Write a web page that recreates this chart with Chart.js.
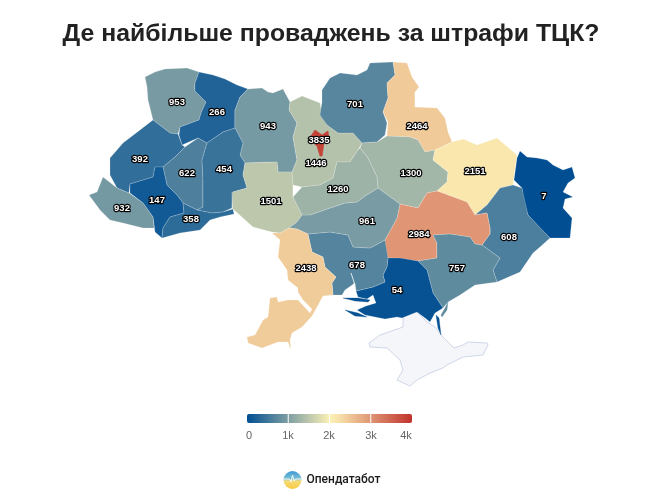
<!DOCTYPE html>
<html lang="uk">
<head>
<meta charset="utf-8">
<title>Де найбільше проваджень за штрафи ТЦК?</title>
<script src="https://cdn.jsdelivr.net/npm/chart.js@4/dist/chart.umd.min.js"></script>
<style>
html,body{margin:0;padding:0;background:#fff}
#wrap{width:650px;height:497px;position:relative}
</style>
</head>
<body>
<div id="wrap"><canvas id="c" width="650" height="497"></canvas></div>
<script>
const chartTitle = 'Де найбільше проваджень за штрафи ТЦК?';
const brandName = 'Опендатабот';
const legendTicks = [0, 1000, 2000, 3000, 4000];
const legendLabels = ['0', '1k', '2k', '3k', '4k'];

const regionNames = ['Волинська','Рівненська','Житомирська','Львівська','Тернопільська','Хмельницька','Івано-Франківська','Чернівецька','Закарпатська','Вінницька','Київська','Чернігівська','Сумська','Полтавська','Харківська','Луганська','Донецька','Дніпропетровська','Запорізька','Херсонська','Миколаївська','Кіровоградська','Одеська','Черкаська','м. Київ'];
const regionValues = [953,266,943,392,622,454,147,358,932,1501,1446,701,2464,1300,2151,7,608,2984,757,54,678,961,2438,1260,3835];
const labelX = [177,217,268,140,187,224,157,191,122,271,316,355,417,411,475,544,509,419,457,397,357,367,306,338,319];
const labelY = [102,112,126,159,173,169,200,219,208,201,163,104,126,173,171,196,237,234,268,290,265,221,268,189,140];

const volyn = [[145,77],[155,72],[165,69],[187,68],[199,72],[195,83],[195,91],[206,102],[201,113],[199,120],[180,127],[178,134],[170,133],[153,120],[148,100],[147,87]];
const rivne = [[199,72],[213,75],[225,79],[237,85],[248,89],[240,97],[235,110],[235,128],[223,132],[207,143],[198,138],[182,145],[179,135],[180,127],[199,120],[201,113],[206,102],[195,91],[195,83]];
const zhytomyr = [[248,89],[262,88],[268,92],[273,93],[283,89],[290,102],[289,110],[297,123],[293,137],[297,160],[292,172],[278,172],[277,162],[245,163],[240,155],[243,143],[235,128],[235,110],[240,97]];
const lviv = [[153,120],[170,133],[178,134],[182,145],[185,147],[175,157],[163,167],[155,167],[153,177],[130,184],[129,193],[117,188],[110,175],[110,158],[123,143],[140,130]];
const ternopil = [[185,147],[198,138],[207,143],[202,160],[203,180],[203,207],[197,210],[183,203],[177,195],[167,185],[163,167],[175,157]];
const khmelnytskyi = [[207,143],[223,132],[235,128],[243,143],[240,155],[245,163],[243,175],[247,188],[233,192],[232,208],[223,212],[212,213],[197,210],[203,207],[203,180],[202,160]];
const frankivsk = [[130,184],[153,177],[155,167],[163,167],[167,185],[177,195],[183,203],[184,213],[170,217],[163,228],[162,238],[155,232],[153,217],[143,203],[130,193]];
const chernivtsi = [[183,203],[197,210],[212,213],[223,212],[233,209],[234,214],[220,217],[210,220],[200,230],[180,233],[162,238],[163,228],[170,217],[184,213]];
const zakarpattia = [[103,177],[117,188],[129,193],[143,203],[153,217],[154,228],[143,228],[123,223],[110,220],[100,210],[89,195],[97,192]];
const vinnytsia = [[245,163],[277,162],[278,172],[292,172],[293,185],[293,197],[302,215],[297,222],[289,228],[280,233],[272,232],[253,227],[233,209],[232,200],[233,192],[247,188],[243,175]];
const kyivObl = [[290,102],[302,96],[320,103],[322,115],[327,125],[338,133],[353,133],[362,143],[358,150],[350,162],[337,162],[333,178],[320,185],[302,187],[293,185],[292,172],[297,160],[293,137],[297,123],[289,110]];
const chernihiv = [[322,90],[330,78],[340,73],[357,75],[367,70],[370,63],[393,62],[395,75],[387,83],[388,98],[383,112],[387,123],[385,135],[377,142],[362,143],[353,133],[338,133],[327,125],[320,115],[322,102]];
const sumy = [[393,62],[407,63],[412,77],[419,87],[415,92],[415,107],[437,108],[445,118],[448,132],[452,142],[435,150],[425,152],[418,140],[410,137],[387,136],[388,122],[383,112],[388,98],[387,83],[395,75]];
const poltava = [[362,143],[377,142],[387,136],[410,137],[418,140],[425,152],[435,150],[433,160],[448,172],[447,182],[437,191],[427,193],[418,208],[400,204],[378,188],[377,177],[368,158],[360,148]];
const kharkiv = [[433,160],[435,150],[452,142],[463,139],[477,145],[497,138],[517,155],[515,168],[513,185],[500,188],[487,205],[475,215],[467,202],[448,195],[437,191],[447,182],[448,172]];
const luhansk = [[520,151],[527,157],[537,158],[547,160],[553,165],[563,170],[572,167],[575,178],[568,183],[563,192],[573,197],[565,199],[563,208],[572,218],[570,238],[550,238],[540,228],[528,215],[523,198],[522,188],[514,180],[517,158]];
const donetsk = [[487,205],[500,188],[513,185],[522,188],[528,215],[550,238],[540,247],[533,253],[520,272],[497,282],[493,270],[500,258],[482,245],[490,234],[490,228],[487,213],[475,215]];
const dnipro = [[400,204],[418,208],[427,193],[437,191],[448,195],[467,202],[475,215],[487,213],[490,228],[490,234],[482,245],[475,244],[470,237],[450,234],[433,235],[437,243],[437,258],[418,261],[388,258],[385,253],[385,240],[397,218]];
const zaporizhzhia = [[418,261],[437,258],[437,243],[433,235],[450,234],[470,237],[475,244],[482,245],[500,258],[493,270],[497,282],[475,285],[460,295],[448,302],[443,308],[433,293],[427,270]];
const kherson = [[388,258],[400,258],[418,261],[427,270],[433,293],[443,308],[435,313],[430,322],[425,318],[417,312],[402,318],[397,317],[385,319],[365,315],[357,310],[366,306],[376,303],[373,295],[367,299],[358,297],[356,291],[373,287],[385,282],[383,275],[387,267]];
const mykolaiv = [[308,234],[330,232],[348,235],[353,247],[370,248],[385,240],[388,258],[387,267],[383,275],[385,282],[373,287],[356,291],[355,283],[345,290],[342,295],[333,295],[332,283],[336,277],[325,267],[323,257],[312,252]];
const kirovohrad = [[297,222],[302,215],[310,215],[330,208],[345,203],[357,202],[365,196],[378,188],[400,204],[397,218],[385,240],[370,248],[353,247],[348,235],[330,232],[308,234],[297,229],[289,228]];
const odesa = [[272,233],[280,233],[289,228],[297,229],[308,234],[312,252],[323,257],[325,267],[336,277],[332,283],[333,295],[323,296],[317,307],[312,316],[302,327],[292,333],[290,340],[291,350],[288,342],[278,342],[262,348],[248,343],[247,337],[255,335],[263,320],[268,317],[270,298],[277,297],[278,302],[288,300],[298,300],[310,313],[312,309],[303,300],[298,292],[298,288],[288,280],[287,270],[278,257],[280,240]];
const cherkasy = [[293,197],[302,187],[320,185],[333,178],[337,162],[350,162],[358,150],[360,148],[368,158],[377,177],[378,188],[365,196],[357,202],[345,203],[330,208],[310,215],[302,215]];
const kyivCity = [[311,136],[315,130],[322,135],[328,131],[329,140],[324,143],[322,156],[320,156],[317,146],[311,141]];
const regionOutlines = [volyn,rivne,zhytomyr,lviv,ternopil,khmelnytskyi,frankivsk,chernivtsi,zakarpattia,vinnytsia,kyivObl,chernihiv,sumy,poltava,kharkiv,luhansk,donetsk,dnipro,zaporizhzhia,kherson,mykolaiv,kirovohrad,odesa,cherkasy,kyivCity];

const crimea = [[403,313],[417,312],[427,322],[435,327],[443,337],[454,348],[463,345],[468,342],[487,343],[488,345],[483,355],[463,357],[447,365],[443,368],[430,373],[417,380],[410,386],[397,380],[403,370],[400,360],[387,348],[370,347],[369,343],[380,335],[403,327]];
const kinburnSpit = [[343,298],[358,298],[370,300],[368,302],[355,301]];
const tendraSpit = [[345,310],[358,313],[367,317],[355,316]];
const chongarStrait = [[436,315],[439,318],[441,335],[438,328]];
const arabatSpit = [[448,302],[447,310],[442,317],[441,315],[445,308]];
const bugRiver = [[351,273],[354,282],[355,291]];

const stops = [[0,[0,78,146]],[2000,[251,239,181]],[2200,[248,228,172]],[4000,[192,50,44]]];
function colourFor(v){
  const t = Math.min(v,4000);
  let i = 0;
  while(i < stops.length-2 && t >= stops[i+1][0]) i++;
  const [a,ca] = stops[i], [b,cb] = stops[i+1];
  const f = (t-a)/(b-a);
  const c = ca.map((x,k)=>Math.round(x+(cb[k]-x)*f));
  return `rgb(${c[0]},${c[1]},${c[2]})`;
}
const datasets = [];
function shape(label, outline, fillCol, lineCol, width){
  const pts = outline.map(p=>({x:p[0],y:p[1]}));
  pts.push({x:outline[0][0],y:outline[0][1]});
  datasets.push({type:'scatter',label,data:pts,showLine:true,fill:'shape',tension:0,backgroundColor:fillCol,borderColor:lineCol,borderWidth:width,pointRadius:0,pointHoverRadius:0,borderJoinStyle:'round',order:-datasets.length});
}
const seam = 'rgba(255,255,255,0.25)';
shape('Крим',crimea,'#f5f6fa','#c3cde2',0.8);
regionOutlines.forEach((o,i)=>{
  const col = colourFor(regionValues[i]);
  shape(regionNames[i],o,col,i===regionOutlines.length-1?col:seam,0.7);
});
const kh = colourFor(54);
shape('Кінбурнська коса',kinburnSpit,kh,kh,0.3);
shape('Тендрівська коса',tendraSpit,kh,kh,0.3);
shape('Чонгар',chongarStrait,kh,kh,0.3);
shape('Арабатська стрілка',arabatSpit,colourFor(757),colourFor(757),0.3);
datasets.push({type:'scatter',label:'Південний Буг',data:bugRiver.map(p=>({x:p[0],y:p[1]})),showLine:true,borderColor:'rgba(255,255,255,0.8)',borderWidth:1,pointRadius:0,pointHoverRadius:0,order:-datasets.length});
const labelIndex = datasets.length;
datasets.push({type:'scatter',label:'Підписи',data:labelX.map((x,i)=>({x,y:labelY[i]})),pointRadius:0,pointHoverRadius:0,showLine:false,order:-datasets.length});

const labelPlugin = {
  id:'mapText',
  afterDatasetsDraw(chart){
    const {ctx} = chart;
    const pts = chart.getDatasetMeta(labelIndex).data;
    ctx.save();
    ctx.font = 'bold 9.5px "Liberation Sans", Arial, sans-serif';
    ctx.textAlign = 'center';
    ctx.textBaseline = 'middle';
    ctx.lineJoin = 'round';
    pts.forEach((pt,i)=>{
      const s = String(regionValues[i]);
      ctx.lineWidth = 2.4;
      ctx.strokeStyle = '#000';
      ctx.strokeText(s,pt.x,pt.y);
      ctx.fillStyle = '#fff';
      ctx.fillText(s,pt.x,pt.y);
    });
    const L=247, W=165, T=414, H=9;
    const g = ctx.createLinearGradient(L,0,L+W,0);
    stops.forEach(s=>g.addColorStop(s[0]/4000,`rgb(${s[1].join(',')})`));
    ctx.fillStyle = g;
    ctx.beginPath();
    ctx.roundRect(L,T,W,H,2);
    ctx.fill();
    ctx.strokeStyle = '#fff';
    ctx.lineWidth = 1;
    const lx = [249,288,329,371,406];
    ctx.font = '11px "Liberation Sans", Arial, sans-serif';
    ctx.fillStyle = '#666';
    legendTicks.forEach((v,i)=>{
      const x = L + v/4000*W;
      if(i>0 && i<legendTicks.length-1){
        ctx.beginPath();ctx.moveTo(x,T);ctx.lineTo(x,T+H);ctx.stroke();
      }
      ctx.fillText(legendLabels[i],lx[i],436);
    });
    const cx=292.5, cy=480, r=9;
    const lg = ctx.createLinearGradient(0,cy-r,0,cy+r);
    lg.addColorStop(0,'#3f9bdc'); lg.addColorStop(0.45,'#7fc0d0'); lg.addColorStop(0.55,'#f4dc7a'); lg.addColorStop(1,'#f9c93f');
    ctx.fillStyle = lg;
    ctx.beginPath();ctx.arc(cx,cy,r,0,Math.PI*2);ctx.fill();
    ctx.strokeStyle='#fff';ctx.lineWidth=0.9;
    ctx.beginPath();ctx.moveTo(cx-r,cy-1);ctx.lineTo(cx-3,cy-1);ctx.lineTo(cx-1.5,cy+2);ctx.lineTo(cx,cy-5);ctx.lineTo(cx+1.5,cy+1);ctx.lineTo(cx+3,cy-1);ctx.lineTo(cx+r,cy-1);ctx.stroke();
    ctx.fillStyle='#1a1a1a';
    ctx.textAlign='left';
    ctx.font='500 12px Roboto, "Liberation Sans", sans-serif';
    ctx.fillText(brandName,306.5,480);
    ctx.restore();
  }
};

new Chart(document.getElementById('c'),{
  type:'scatter',
  data:{datasets},
  plugins:[labelPlugin],
  options:{
    responsive:false,
    animation:false,
    layout:{padding:{left:12,right:0,top:0,bottom:0}},
    scales:{
      x:{type:'linear',min:12,max:650,display:false},
      y:{type:'linear',min:50,max:497,reverse:true,display:false}
    },
    plugins:{
      legend:{display:false},
      tooltip:{enabled:false},
      title:{display:true,text:chartTitle,fullSize:false,color:'#222',font:{family:'"Liberation Sans", Arial, sans-serif',size:24.8,weight:'bold',lineHeight:1.2},padding:{top:19,bottom:1.24}}
    }
  }
});
</script>
</body>
</html>
